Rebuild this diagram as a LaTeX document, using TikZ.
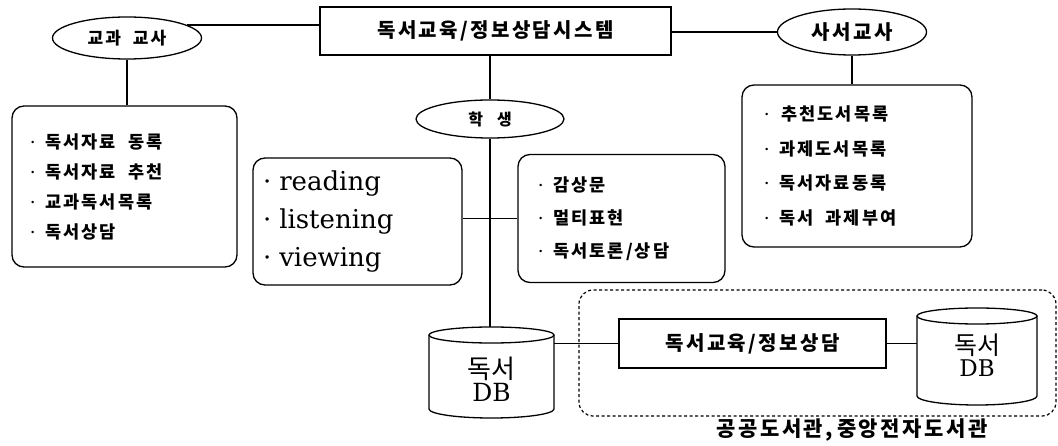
\documentclass[tikz,border=0pt]{standalone}
\usepackage{fontspec}
\newfontfamily\kr[LetterSpace=12]{Noto Sans CJK KR}
\newfontfamily\krn{Noto Sans CJK KR}
\newfontfamily\dvs{DejaVu Serif}
\usetikzlibrary{shapes.geometric}
\newcommand\kbul{{\normalfont\rmfamily\bfseries ·}\hspace{5pt}}
\tikzset{
  ln/.style={line width=1.3pt},
  kfont/.style 2 args={font=\kr\bfseries\fontsize{#1}{#2}\selectfont},
  sysbox/.style={draw, ln, rectangle, inner sep=0pt},
  role/.style={draw, ln, ellipse, inner sep=0pt},
  listbox/.style={draw, ln, rectangle, rounded corners=12pt, align=left, inner ysep=0pt},
  dbtext/.style={align=center, inner sep=0pt},
  frame/.style={draw, line width=1.2pt, dash pattern=on 3pt off 2.5pt, rounded corners=14pt, inner sep=0pt},
}
\begin{document}
\begin{tikzpicture}[x=1pt, y=-1pt]
\useasboundingbox (0,0) rectangle (1058,446);

% top row
\node[sysbox, kfont={20}{22}, minimum width=351pt, minimum height=48pt] (tb) at (495.5,31) {독서교육/정보상담시스템};
\node[role, kfont={17}{17}, minimum width=149pt, minimum height=42pt] (le) at (127,38) {교과\hspace{12pt}교사};
\node[role, kfont={20}{20}, minimum width=149pt, minimum height=46pt] (re) at (852,32) {사서교사};
\node[role, kfont={16}{16}, minimum width=148pt, minimum height=38pt] (st) at (490,119) {학\hspace{14pt}생};

% list boxes
\node[listbox, kfont={17.5}{30}, text width=199pt, inner xsep=13pt, minimum height=161pt] (lb) at (124.5,186.5)
  {\kbul 독서자료\hspace{12pt}동록\\\kbul 독서자료\hspace{12pt}추천\\\kbul 교과독서목록\\\kbul 독서상담};
\node[listbox, font=\dvs\fontsize{26}{38}\selectfont, text width=189pt, inner xsep=10pt, minimum height=127pt] (rd) at (357.5,221.5)
  {·\hspace{8pt}reading\\·\hspace{8pt}listening\\·\hspace{8pt}viewing};
\node[listbox, kfont={17.5}{33}, text width=177pt, inner xsep=15pt, minimum height=128pt] (gs) at (621.5,218.5)
  {\kbul 감상문\\\kbul 멀티표현\\\kbul 독서토론/상담};
\node[listbox, kfont={17.5}{34.5}, text width=196pt, inner xsep=17pt, minimum height=162pt] (rb) at (857,166)
  {\kbul\hspace{2pt}추천도서목록\\\kbul 과제도서목록\\\kbul 독서자료동록\\\kbul 독서\hspace{12pt}과제부여};

% dashed frame and inner box
\node[frame, minimum width=477pt, minimum height=126pt] (fr) at (817.5,353) {};
\node[kfont={21}{21}] (lbl) at (852,430) {공공도서관,\hspace{4pt}중앙전자도서관};
\node[sysbox, kfont={20}{22}, minimum width=267pt, minimum height=49pt] (ib) at (752.5,343.5) {독서교육/정보상담};

% left DB cylinder
\draw[ln] (429,335) -- (429,409) arc[start angle=180, end angle=360, x radius=62.5pt, y radius=9pt] -- (554,335);
\draw[ln] (491.5,335) ellipse [x radius=62.5pt, y radius=8pt];
\node[dbtext, font=\fontsize{26}{23}\selectfont] (db1) at (491.5,379) {{\krn 독서}\\{\dvs\fontsize{25}{23}\selectfont DB}};
\coordinate (db1t) at (490,327);
\coordinate (db1r) at (554,343.5);

% right DB cylinder
\draw[ln] (917,316) -- (917,396) arc[start angle=180, end angle=360, x radius=60pt, y radius=9pt] -- (1037,316);
\draw[ln] (977,316) ellipse [x radius=60pt, y radius=8pt];
\node[dbtext, font=\fontsize{25}{22}\selectfont] (db2) at (977,355) {{\krn 독서}\\{\dvs\fontsize{23}{22}\selectfont DB}};
\coordinate (db2l) at (917,343.5);

% connectors
\draw[ln] (le.12) -- (le.12 -| tb.west);
\draw[ln] (re.west) -- (re.west -| tb.east);
\draw[ln] (le.south) -- (le.south |- lb.north);
\draw[ln] (re.south) -- (re.south |- rb.north);
\draw[ln] (st.north |- tb.south) -- (st.north);
\draw[ln] (st.south) -- (db1t);
\draw[ln] (gs.west) -- (gs.west -| rd.east);
\draw[ln] (db1r) -- (ib.west);
\draw[ln] (ib.east) -- (db2l);
\end{tikzpicture}
\end{document}
